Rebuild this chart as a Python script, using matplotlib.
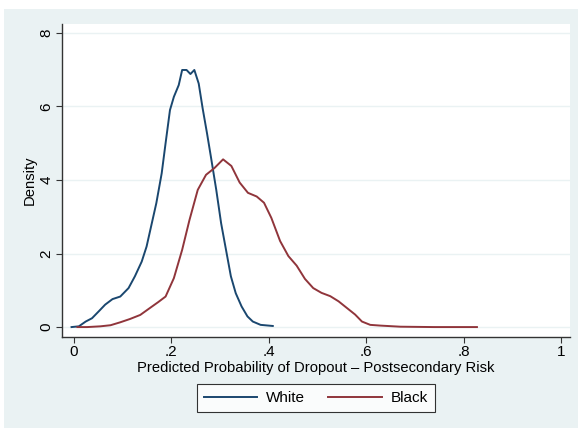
import matplotlib.pyplot as plt
from matplotlib.patches import Rectangle

plt.rcParams['font.family'] = ['Liberation Sans', 'DejaVu Sans']

# kernel density estimates
white_x = [-0.005, 0.010, 0.024, 0.037, 0.051, 0.064, 0.079, 0.095, 0.112, 0.125,
           0.139, 0.149, 0.159, 0.169, 0.180, 0.188, 0.197, 0.205, 0.215, 0.222,
           0.231, 0.239, 0.247, 0.256, 0.264, 0.273, 0.281, 0.292, 0.302, 0.312,
           0.322, 0.332, 0.344, 0.356, 0.367, 0.383, 0.408]
white_y = [0.0, 0.02, 0.15, 0.24, 0.43, 0.61, 0.76, 0.83, 1.06, 1.38,
           1.78, 2.19, 2.78, 3.37, 4.18, 5.0, 5.90, 6.26, 6.58, 6.99,
           6.99, 6.88, 6.99, 6.62, 5.95, 5.27, 4.63, 3.73, 2.82, 2.10,
           1.38, 0.92, 0.56, 0.29, 0.15, 0.06, 0.03]

black_x = [0.007, 0.027, 0.054, 0.075, 0.095, 0.115, 0.136, 0.156, 0.173, 0.188,
           0.205, 0.222, 0.237, 0.254, 0.271, 0.288, 0.306, 0.323, 0.340, 0.357,
           0.375, 0.390, 0.405, 0.423, 0.440, 0.457, 0.474, 0.491, 0.508, 0.526,
           0.543, 0.560, 0.577, 0.591, 0.608, 0.629, 0.670, 0.739, 0.827]
black_y = [0.0, 0.0, 0.02, 0.05, 0.13, 0.22, 0.33, 0.52, 0.68, 0.83,
           1.33, 2.10, 2.91, 3.73, 4.14, 4.32, 4.56, 4.38, 3.93, 3.65,
           3.55, 3.38, 2.97, 2.34, 1.93, 1.67, 1.31, 1.06, 0.93, 0.84,
           0.70, 0.52, 0.34, 0.15, 0.06, 0.04, 0.01, 0.0, 0.0]

x_ticks = [0, 0.2, 0.4, 0.6, 0.8, 1]
x_labels = ['0', '.2', '.4', '.6', '.8', '1']
y_ticks = [0, 2, 4, 6, 8]

bg = '#eaf2f3'
fig = plt.figure(figsize=(5.78, 4.28), dpi=100, facecolor='white')
fig.patches.append(Rectangle((4 / 578, 0), 1, 1 - 9 / 428, transform=fig.transFigure,
                             facecolor=bg, edgecolor='none', zorder=-10))

ax = fig.add_axes([62 / 578, 1 - 337 / 428, 508 / 578, 313 / 428])
ax.set_facecolor('white')
ax.plot(white_x, white_y, color='#1a476f', lw=1.4, label='White')
ax.plot(black_x, black_y, color='#90353b', lw=1.4, label='Black')

ax.set_xlim(-0.0246, 1.018)
ax.set_ylim(-0.27, 8.24)
ax.set_xticks(x_ticks)
ax.set_xticklabels(x_labels)
ax.set_yticks(y_ticks)
ax.set_yticklabels([str(t) for t in y_ticks], rotation=90, va='center')
ax.tick_params(labelsize=11, length=4, width=0.8, color='#333333', pad=2)
ax.grid(axis='y', color=bg, lw=1)
ax.set_axisbelow(True)
for s in ['top', 'right']:
    ax.spines[s].set_visible(False)
for s in ['left', 'bottom']:
    ax.spines[s].set_color('#333333')
    ax.spines[s].set_linewidth(1)
ax.set_xlabel('Predicted Probability of Dropout \u2013 Postsecondary Risk', fontsize=10.6, labelpad=1)
ax.set_ylabel('Density', fontsize=10.6, labelpad=2)

leg = fig.legend(loc='center', bbox_to_anchor=(316 / 578, 1 - 398 / 428), ncol=2,
                 fontsize=11, frameon=True, fancybox=False, handlelength=3.5,
                 columnspacing=1.5, borderpad=0.45, handletextpad=0.6)
leg.get_frame().set_edgecolor('black')
leg.get_frame().set_linewidth(0.8)

fig.savefig('out.png', dpi=100, facecolor=fig.get_facecolor())
